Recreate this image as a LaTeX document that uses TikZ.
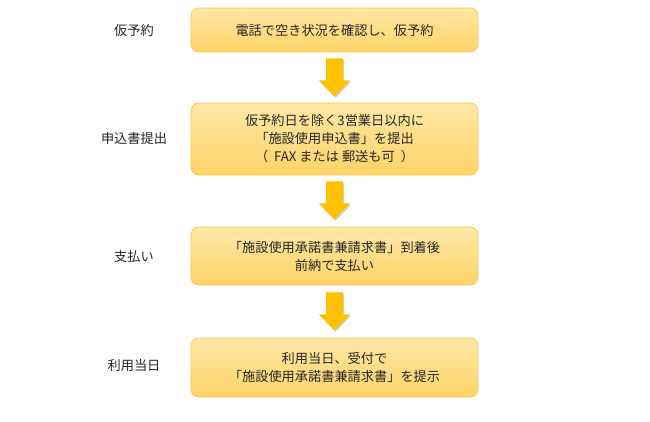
\documentclass[tikz,border=0pt]{standalone}
\usepackage{fontspec}
\setmainfont{Noto Sans CJK JP}
\definecolor{boxtop}{HTML}{FFE7A6}
\definecolor{boxbot}{HTML}{FFD467}
\definecolor{boxline}{HTML}{FAC94F}
\definecolor{arrowc}{HTML}{FFC000}
\definecolor{txt}{HTML}{262626}
\tikzset{
  x=1pt,y=-1pt,
  stepbox/.style={draw=boxline,line width=0.8pt,rounded corners=8pt,
    top color=boxtop,bottom color=boxbot,minimum width=287pt,
    align=center,text=txt,font=\fontsize{13.2}{18}\selectfont,inner sep=0pt},
  steplabel/.style={text=txt,font=\fontsize{13.2}{18}\selectfont},
  downarrow/.pic={
    \fill[black,opacity=0.18] (-7.5,1.5) -- (9.5,1.5) -- (9.5,23.5) -- (16.5,23.5) -- (1,39.5) -- (-14.5,23.5) -- (-7.5,23.5) -- cycle;
    \fill[arrowc] (-8.5,0) -- (8.5,0) -- (8.5,22) -- (15.5,22) -- (0,38) -- (-15.5,22) -- (-8.5,22) -- cycle;
  },
}
\begin{document}
\begin{tikzpicture}
\fill[white] (0,0) rectangle (650,421);
\useasboundingbox (0,0) rectangle (650,421);
\node[stepbox,minimum height=44pt] (b1) at (334.5,30) {電話で空き状況を確認し、仮予約};
\node[stepbox,minimum height=72pt] (b2) at (334.5,139) {仮予約日を除く3営業日以内に\\「施設使用申込書」を提出\\（\ \ FAX または 郵送も可\ \ ）};
\node[stepbox,minimum height=58pt] (b3) at (334.5,256) {「施設使用承諾書兼請求書」到着後\\前納で支払い};
\node[stepbox,minimum height=59pt] (b4) at (334.5,367.5) {利用当日、受付で\\「施設使用承諾書兼請求書」を提示};
\node[steplabel] (l1) at (134,30) {仮予約};
\node[steplabel] (l2) at (134,138) {申込書提出};
\node[steplabel] (l3) at (134,256) {支払い};
\node[steplabel] (l4) at (134,366) {利用当日};
\coordinate (a1) at ([yshift=-6pt]b1.south);
\coordinate (a2) at ([yshift=-6pt]b2.south);
\coordinate (a3) at ([yshift=-7pt]b3.south);
\pic at (a1) {downarrow};
\pic at (a2) {downarrow};
\pic at (a3) {downarrow};
\end{tikzpicture}
\end{document}
